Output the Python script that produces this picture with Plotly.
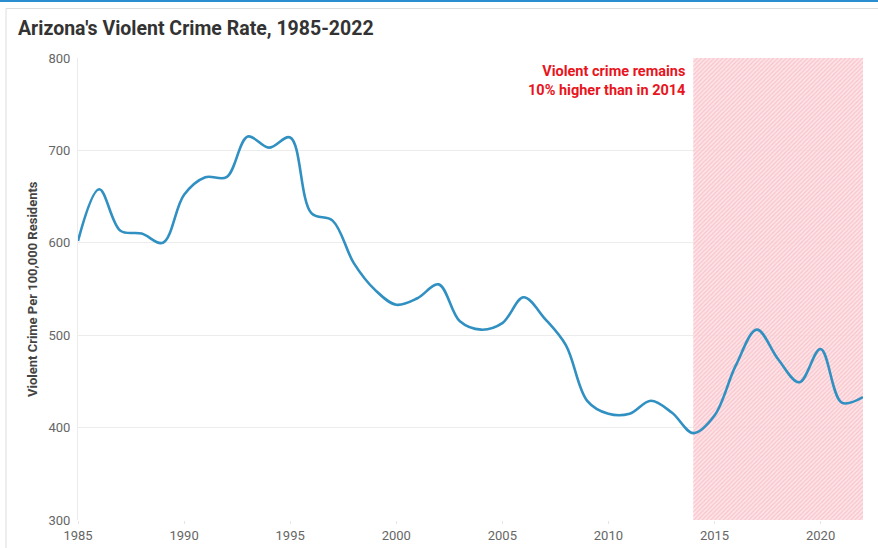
import plotly.graph_objects as go

# Arizona violent crime rate per 100,000 residents
years = list(range(1985, 2023))
rates = [602, 658, 613, 610, 600, 652, 671, 671, 715, 703,
         714, 632, 624, 578, 549, 533, 540, 555, 515, 506,
         513, 541, 518, 489, 429, 415, 415, 429, 416, 394,
         413, 467, 506, 474, 449, 485, 427, 433]

x_ticks = [1985, 1990, 1995, 2000, 2005, 2010, 2015, 2020]
y_ticks = [300, 400, 500, 600, 700, 800]
y_range = [300, 800]
highlight_start = 2014
highlight_end = years[-1]

title_text = "Arizona's Violent Crime Rate, 1985-2022"
y_title_text = "Violent Crime Per 100,000 Residents"
note_text = "Violent crime remains<br>10% higher than in 2014"

W, H = 878, 548
L, R, T, B = 78, 15, 58, 28
pw, ph = W - L - R, H - T - B


def px(x):
    return (x - L) / pw


def py(y):
    return 1 - (y - T) / ph


fig = go.Figure()

# Hatched highlight band for the post-2014 period
fig.add_trace(go.Scatter(
    x=[highlight_start, highlight_end, highlight_end, highlight_start, highlight_start],
    y=[y_range[0], y_range[0], y_range[1], y_range[1], y_range[0]],
    mode="lines",
    line=dict(width=0),
    fill="toself",
    fillcolor="rgba(251,210,215,0.8)",
    fillpattern=dict(shape="/", fgcolor="rgba(246,188,195,0.8)",
                     bgcolor="rgba(252,221,225,0.8)", size=3, solidity=0.4,
                     fillmode="replace"),
    hoverinfo="skip",
    showlegend=False,
))

fig.add_trace(go.Scatter(
    x=years, y=rates,
    mode="lines",
    line=dict(color="#3190c2", width=2.6, shape="spline", smoothing=1.0),
    showlegend=False,
))

fig.add_annotation(
    x=highlight_start, y=y_range[1], xref="x", yref="y",
    xanchor="right", yanchor="top", xshift=-6, yshift=-3,
    text="<b>" + note_text + "</b>", align="right", showarrow=False,
    font=dict(family="Roboto", size=14.5, color="#e8151d"),
)

# Chart title
fig.add_annotation(
    x=px(16), y=py(28), xref="paper", yref="paper", showarrow=False,
    text="<b>" + title_text + "</b>",
    font=dict(family="Roboto", size=19.5, color="#333333"),
    xanchor="left", yanchor="middle",
)

# Vertical axis title
fig.add_annotation(
    x=px(32), y=py(289), xref="paper", yref="paper", showarrow=False,
    text="<b>" + y_title_text + "</b>", textangle=-90,
    font=dict(family="Roboto", size=13, color="#444444"),
    xanchor="center", yanchor="middle",
)

# Card frame: blue top rule and light grey border
fig.add_shape(type="line", xref="paper", yref="paper",
              x0=px(0), x1=px(W), y0=py(1), y1=py(1),
              line=dict(color="#2b8fcf", width=2))
fig.add_shape(type="line", xref="paper", yref="paper",
              x0=px(6), x1=px(W), y0=py(8.5), y1=py(8.5),
              line=dict(color="#dddddd", width=1))
fig.add_shape(type="line", xref="paper", yref="paper",
              x0=px(6), x1=px(6), y0=py(8.5), y1=py(H),
              line=dict(color="#dddddd", width=1))

fig.update_layout(
    width=W, height=H,
    margin=dict(l=L, r=R, t=T, b=B, autoexpand=False),
    paper_bgcolor="white", plot_bgcolor="white",
    font=dict(family="Roboto", color="#666666"),
)

fig.update_xaxes(
    range=[years[0], years[-1]], tickvals=x_ticks,
    showgrid=False, zeroline=False, automargin=False,
    showline=False, ticks="outside", ticklen=3, tickcolor="#e6e6e6",
    tickfont=dict(size=13, color="#666666"),
)
fig.update_yaxes(
    range=y_range, tickvals=y_ticks, automargin=False,
    showgrid=True, gridcolor="#ececec", gridwidth=1, zeroline=False,
    showline=True, linecolor="#ececec", linewidth=1,
    ticks="", ticklabelstandoff=4,
    tickfont=dict(size=13, color="#666666"),
)

fig.write_html("out.html")
